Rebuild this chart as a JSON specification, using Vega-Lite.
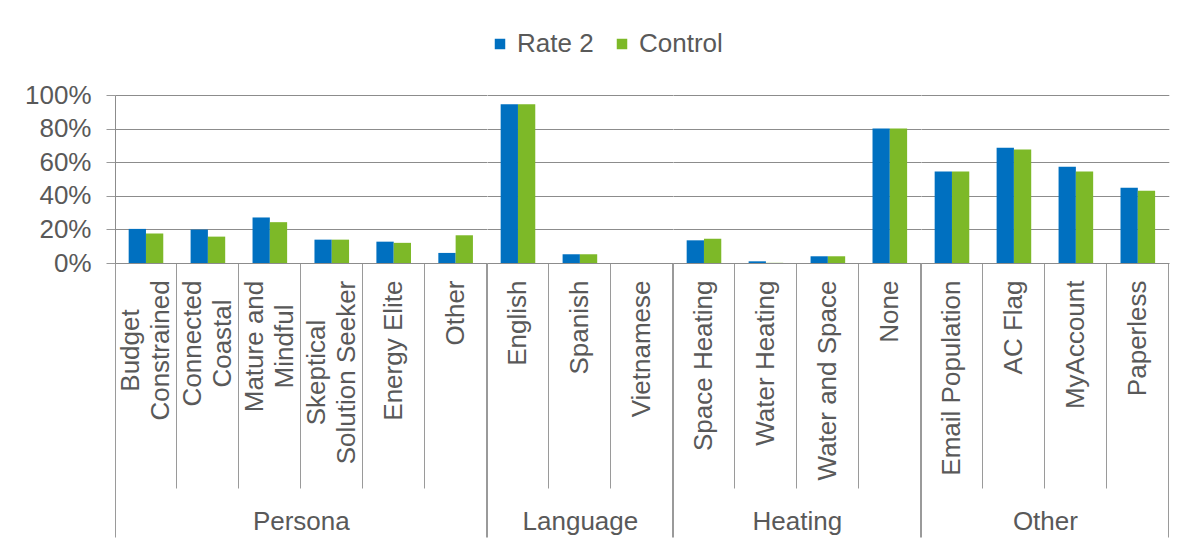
{
  "$schema": "https://vega.github.io/schema/vega-lite/v6.json",
  "background": "white",
  "padding": {"left": 24, "top": 31, "right": 5, "bottom": 5},
  "bounds": "flush",
  "spacing": 0,
  "data": {
    "values": [
      {"group": "Persona", "category": "Budget Constrained", "series": "Rate 2", "value": 0.203},
      {"group": "Persona", "category": "Budget Constrained", "series": "Control", "value": 0.175},
      {"group": "Persona", "category": "Connected Coastal", "series": "Rate 2", "value": 0.199},
      {"group": "Persona", "category": "Connected Coastal", "series": "Control", "value": 0.157},
      {"group": "Persona", "category": "Mature and Mindful", "series": "Rate 2", "value": 0.271},
      {"group": "Persona", "category": "Mature and Mindful", "series": "Control", "value": 0.243},
      {"group": "Persona", "category": "Skeptical Solution Seeker", "series": "Rate 2", "value": 0.139},
      {"group": "Persona", "category": "Skeptical Solution Seeker", "series": "Control", "value": 0.139},
      {"group": "Persona", "category": "Energy Elite", "series": "Rate 2", "value": 0.127},
      {"group": "Persona", "category": "Energy Elite", "series": "Control", "value": 0.12},
      {"group": "Persona", "category": "Other", "series": "Rate 2", "value": 0.06},
      {"group": "Persona", "category": "Other", "series": "Control", "value": 0.165},
      {"group": "Language", "category": "English", "series": "Rate 2", "value": 0.945},
      {"group": "Language", "category": "English", "series": "Control", "value": 0.945},
      {"group": "Language", "category": "Spanish", "series": "Rate 2", "value": 0.052},
      {"group": "Language", "category": "Spanish", "series": "Control", "value": 0.052},
      {"group": "Language", "category": "Vietnamese", "series": "Rate 2", "value": 0.0},
      {"group": "Language", "category": "Vietnamese", "series": "Control", "value": 0.0},
      {"group": "Heating", "category": "Space Heating", "series": "Rate 2", "value": 0.135},
      {"group": "Heating", "category": "Space Heating", "series": "Control", "value": 0.145},
      {"group": "Heating", "category": "Water Heating", "series": "Rate 2", "value": 0.01},
      {"group": "Heating", "category": "Water Heating", "series": "Control", "value": 0.001},
      {"group": "Heating", "category": "Water and Space", "series": "Rate 2", "value": 0.04},
      {"group": "Heating", "category": "Water and Space", "series": "Control", "value": 0.04},
      {"group": "Heating", "category": "None", "series": "Rate 2", "value": 0.8},
      {"group": "Heating", "category": "None", "series": "Control", "value": 0.8},
      {"group": "Other", "category": "Email Population", "series": "Rate 2", "value": 0.545},
      {"group": "Other", "category": "Email Population", "series": "Control", "value": 0.545},
      {"group": "Other", "category": "AC Flag", "series": "Rate 2", "value": 0.686},
      {"group": "Other", "category": "AC Flag", "series": "Control", "value": 0.676},
      {"group": "Other", "category": "MyAccount", "series": "Rate 2", "value": 0.573},
      {"group": "Other", "category": "MyAccount", "series": "Control", "value": 0.545},
      {"group": "Other", "category": "Paperless", "series": "Rate 2", "value": 0.448},
      {"group": "Other", "category": "Paperless", "series": "Control", "value": 0.43}
    ]
  },
  "resolve": {"scale": {"color": "shared", "y": "shared"}},
  "hconcat": [
    {
      "width": 371.6,
      "height": 168,
      "transform": [{"filter": "datum.group === 'Persona'"}],
      "mark": {"type": "bar"},
      "encoding": {
        "x": {
          "field": "category", "type": "nominal", "sort": null,
          "scale": {"paddingInner": 0, "paddingOuter": 0},
          "axis": {
            "title": "Persona",
            "bandPosition": 1, "tickExtra": true,
            "tickSize": {"condition": {"test": "!!datum.extra || datum.value === 'Other'", "value": 274}, "value": 225},
            "labelAlign": {"condition": {"test": "indexof(['Budget Constrained', 'Connected Coastal', 'Mature and Mindful', 'Skeptical Solution Seeker'], datum.value) >= 0", "value": "center"}, "value": "right"},
            "labelOffset": {"condition": {"test": "indexof(['Budget Constrained', 'Connected Coastal', 'Mature and Mindful', 'Skeptical Solution Seeker'], datum.value) >= 0", "value": -15}, "value": 0},
            "labelPadding": {"condition": [
              {"test": "datum.value === 'Other'", "value": -257},
              {"test": "datum.value === 'Budget Constrained'", "value": -138},
              {"test": "datum.value === 'Connected Coastal'", "value": -145},
              {"test": "datum.value === 'Mature and Mindful'", "value": -142},
              {"test": "datum.value === 'Skeptical Solution Seeker'", "value": -116}
            ], "value": -208},
            "labelExpr": "datum.value == 'Budget Constrained' ? ['Budget', 'Constrained'] : datum.value == 'Connected Coastal' ? ['Connected', 'Coastal'] : datum.value == 'Mature and Mindful' ? ['Mature and', 'Mindful'] : datum.value == 'Skeptical Solution Seeker' ? ['Skeptical', 'Solution Seeker'] : datum.label"
          }
        },
        "xOffset": {"field": "series", "type": "nominal", "sort": ["Rate 2", "Control"], "scale": {"paddingInner": 0, "paddingOuter": 0.79}},
        "y": {
          "field": "value", "type": "quantitative",
          "scale": {"domain": [0, 1], "nice": false},
          "axis": {"title": null, "values": [0, 0.2, 0.4, 0.6, 0.8, 1], "format": ".0%", "grid": true, "ticks": true, "tickSize": 9, "domain": true, "labelPadding": 15, "labelFontSize": 26}
        },
        "color": {
          "field": "series", "type": "nominal",
          "scale": {"domain": ["Rate 2", "Control"], "range": ["#0070C0", "#7DB928"]},
          "legend": {"orient": "none", "legendX": 372, "legendY": -64, "direction": "horizontal", "title": null}
        }
      }
    },
    {
      "width": 185.8,
      "height": 168,
      "transform": [{"filter": "datum.group === 'Language'"}],
      "mark": {"type": "bar"},
      "encoding": {
        "x": {
          "field": "category", "type": "nominal", "sort": null,
          "scale": {"paddingInner": 0, "paddingOuter": 0},
          "axis": {
            "title": "Language",
            "bandPosition": 1, "tickExtra": true,
            "tickSize": {"condition": {"test": "!!datum.extra || datum.value === 'Vietnamese'", "value": 274}, "value": 225},
            "labelPadding": {"condition": {"test": "datum.value === 'Vietnamese'", "value": -257}, "value": -208}
          }
        },
        "xOffset": {"field": "series", "type": "nominal", "sort": ["Rate 2", "Control"], "scale": {"paddingInner": 0, "paddingOuter": 0.79}},
        "y": {
          "field": "value", "type": "quantitative",
          "scale": {"domain": [0, 1], "nice": false},
          "axis": {"title": null, "values": [0, 0.2, 0.4, 0.6, 0.8, 1], "grid": true, "ticks": false, "labels": false, "domain": false}
        },
        "color": {
          "field": "series", "type": "nominal",
          "scale": {"domain": ["Rate 2", "Control"], "range": ["#0070C0", "#7DB928"]},
          "legend": {"orient": "none", "legendX": 372, "legendY": -64, "direction": "horizontal", "title": null}
        }
      }
    },
    {
      "width": 247.8,
      "height": 168,
      "transform": [{"filter": "datum.group === 'Heating'"}],
      "mark": {"type": "bar"},
      "encoding": {
        "x": {
          "field": "category", "type": "nominal", "sort": null,
          "scale": {"paddingInner": 0, "paddingOuter": 0},
          "axis": {
            "title": "Heating",
            "bandPosition": 1, "tickExtra": true,
            "tickSize": {"condition": {"test": "!!datum.extra || datum.value === 'None'", "value": 274}, "value": 225},
            "labelPadding": {"condition": {"test": "datum.value === 'None'", "value": -257}, "value": -208}
          }
        },
        "xOffset": {"field": "series", "type": "nominal", "sort": ["Rate 2", "Control"], "scale": {"paddingInner": 0, "paddingOuter": 0.79}},
        "y": {
          "field": "value", "type": "quantitative",
          "scale": {"domain": [0, 1], "nice": false},
          "axis": {"title": null, "values": [0, 0.2, 0.4, 0.6, 0.8, 1], "grid": true, "ticks": false, "labels": false, "domain": false}
        },
        "color": {
          "field": "series", "type": "nominal",
          "scale": {"domain": ["Rate 2", "Control"], "range": ["#0070C0", "#7DB928"]},
          "legend": {"orient": "none", "legendX": 372, "legendY": -64, "direction": "horizontal", "title": null}
        }
      }
    },
    {
      "width": 247.8,
      "height": 168,
      "transform": [{"filter": "datum.group === 'Other'"}],
      "mark": {"type": "bar"},
      "encoding": {
        "x": {
          "field": "category", "type": "nominal", "sort": null,
          "scale": {"paddingInner": 0, "paddingOuter": 0},
          "axis": {
            "title": "Other",
            "bandPosition": 1, "tickExtra": true,
            "tickSize": {"condition": {"test": "!!datum.extra || datum.value === 'Paperless'", "value": 274}, "value": 225},
            "labelPadding": {"condition": {"test": "datum.value === 'Paperless'", "value": -257}, "value": -208}
          }
        },
        "xOffset": {"field": "series", "type": "nominal", "sort": ["Rate 2", "Control"], "scale": {"paddingInner": 0, "paddingOuter": 0.79}},
        "y": {
          "field": "value", "type": "quantitative",
          "scale": {"domain": [0, 1], "nice": false},
          "axis": {"title": null, "values": [0, 0.2, 0.4, 0.6, 0.8, 1], "grid": true, "ticks": false, "labels": false, "domain": false}
        },
        "color": {
          "field": "series", "type": "nominal",
          "scale": {"domain": ["Rate 2", "Control"], "range": ["#0070C0", "#7DB928"]},
          "legend": {"orient": "none", "legendX": 372, "legendY": -64, "direction": "horizontal", "title": null}
        }
      }
    }
  ],
  "config": {
    "view": {"stroke": null},
    "concat": {"spacing": 0},
    "axis": {
      "labelFont": "Liberation Sans",
      "labelFontSize": 26,
      "labelColor": "#595959",
      "titleFont": "Liberation Sans",
      "titleFontSize": 26,
      "titleFontWeight": "normal",
      "titleColor": "#595959",
      "gridColor": "#8c8c8c",
      "gridWidth": 1,
      "domainColor": "#8c8c8c",
      "tickColor": "#9a9a9a",
      "tickWidth": 1
    },
    "axisX": {
      "labelAngle": -90,
      "labelBaseline": "middle",
      "labelLineHeight": 30,
      "labelOverlap": false,
      "labelLimit": 0,
      "labelFlush": false,
      "grid": false,
      "titleY": 245,
      "titleBaseline": "top"
    },
    "legend": {
      "labelFont": "Liberation Sans",
      "labelFontSize": 26,
      "labelColor": "#595959",
      "symbolType": "square",
      "symbolSize": 110,
      "symbolStrokeWidth": 0,
      "labelOffset": 4,
      "columnPadding": 15,
      "padding": 0
    }
  }
}
